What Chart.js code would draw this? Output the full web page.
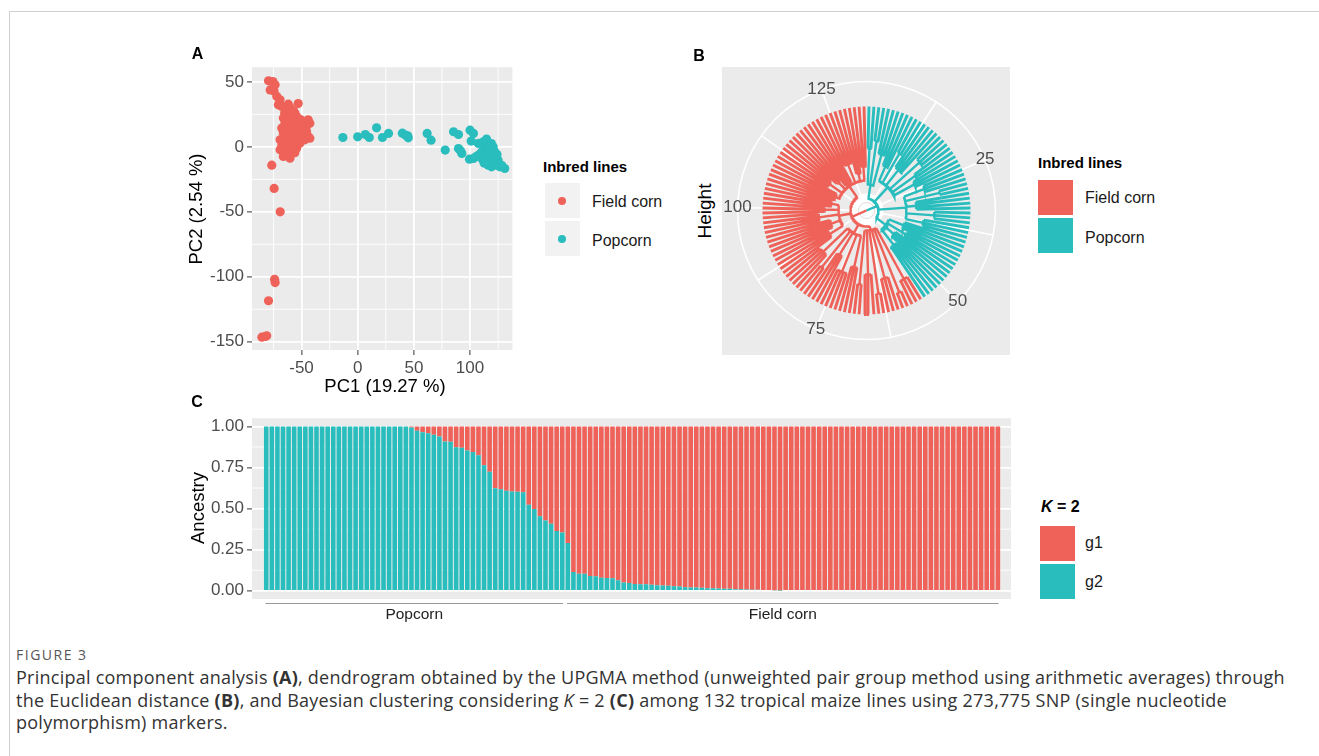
<!DOCTYPE html>
<html>
<head>
<meta charset="utf-8">
<title>Figure 3</title>
<script src="https://cdn.jsdelivr.net/npm/chart.js@4.4.1/dist/chart.umd.min.js"></script>
<style>
  body { margin: 0; width: 1319px; height: 756px; position: relative; overflow: hidden; background: #fff;
         font-family: "Liberation Sans", Arial, sans-serif; color: #000; }
  .frame { position: absolute; left: 9px; top: 11px; width: 1400px; height: 800px;
           border-top: 1px solid #cfcfcf; border-left: 1px solid #cfcfcf; }
  canvas { position: absolute; }
  .txt { position: absolute; white-space: nowrap; line-height: 1; }
  .c { transform: translate(-50%, -50%); }
  .v { transform: translate(-50%, -50%) rotate(-90deg); }
  .l { transform: translateY(-50%); }
  .tag { font-weight: bold; font-size: 16px; }
  .ttl { font-size: 18.5px; }
  .leg-title { font-weight: bold; font-size: 15px; }
  .leg-lab { font-size: 16px; color: #1a1a1a; }
  .key { position: absolute; width: 35px; height: 35px; }
  .dot { position: absolute; width: 8px; height: 8px; border-radius: 50%; transform: translate(-50%, -50%); }
  .fig { position: absolute; left: 16px; top: 654px; transform: translateY(-50%); font-family: "Open Sans", sans-serif;
         font-size: 14px; letter-spacing: 1.5px; color: #555; white-space: nowrap; }
  .cap { position: absolute; left: 16px; top: 666px; font-family: "Open Sans", sans-serif; font-size: 18px;
         letter-spacing: 0.25px; line-height: 22.5px; color: #333; white-space: nowrap; }
</style>
</head>
<body>
<div class="frame"></div>

<canvas id="pca" width="337" height="326" style="left:180px;top:54px"></canvas>
<canvas id="tree" width="288" height="288" style="left:722px;top:67px"></canvas>
<canvas id="anc" width="831" height="228" style="left:180px;top:405px"></canvas>

<!-- panel tags and axis titles -->
<div class="txt c tag" style="left:197.5px;top:54px">A</div>
<div class="txt c tag" style="left:699px;top:56px">B</div>
<div class="txt c tag" style="left:197px;top:402px">C</div>
<div class="txt v ttl" style="left:196px;top:209px">PC2 (2.54 %)</div>
<div class="txt c ttl" style="left:385px;top:386px">PC1 (19.27 %)</div>
<div class="txt v ttl" style="left:704px;top:211px;font-size:19px">Height</div>
<div class="txt v ttl" style="left:197.5px;top:508px">Ancestry</div>

<!-- legend A -->
<div class="txt l leg-title" style="left:543px;top:166px">Inbred lines</div>
<div class="key" style="left:545px;top:183px;background:#F2F2F2"></div>
<div class="key" style="left:545px;top:221px;background:#F2F2F2"></div>
<div class="dot" id="dotField" style="left:562px;top:201px"></div>
<div class="dot" id="dotPop" style="left:562px;top:239px"></div>
<div class="txt l leg-lab" style="left:592px;top:202px">Field corn</div>
<div class="txt l leg-lab" style="left:592px;top:241px">Popcorn</div>

<!-- legend B -->
<div class="txt l leg-title" style="left:1038px;top:162px">Inbred lines</div>
<div class="key" id="keyB1" style="left:1038px;top:180px"></div>
<div class="key" id="keyB2" style="left:1038px;top:218px"></div>
<div class="txt l leg-lab" style="left:1085px;top:198px">Field corn</div>
<div class="txt l leg-lab" style="left:1085px;top:238px">Popcorn</div>

<!-- legend C -->
<div class="txt l leg-title" style="left:1041px;top:507px;font-size:16px"><i>K</i> = 2</div>
<div class="key" id="keyC1" style="left:1040px;top:526px"></div>
<div class="key" id="keyC2" style="left:1040px;top:564px"></div>
<div class="txt l leg-lab" style="left:1085px;top:543px">g1</div>
<div class="txt l leg-lab" style="left:1085px;top:582px">g2</div>

<div class="fig">FIGURE 3</div>
<div class="cap">Principal component analysis <b>(A)</b>, dendrogram obtained by the UPGMA method (unweighted pair group method using arithmetic averages) through<br>the Euclidean distance <b>(B)</b>, and Bayesian clustering considering <i>K</i> = 2 <b>(C)</b> among 132 tropical maize lines using 273,775 SNP (single nucleotide<br>polymorphism) markers.</div>

<script>
// ─── Panel A: PCA scores ────────────────────────────────────────────────
const fieldPC1 = [-79.4, -75.5, -73.5, -77.9, -74.5, -72.0, -69.1, -70.6, -67.6, -61.8, -53.0, -60.3,
  -55.9, -54.4, -44.1, -47.1, -42.6, -66.2, -61.8, -58.8, -64.7, -60.3, -57.4, -52.9, -50.0, -67.6,
  -63.2, -58.8, -54.4, -50.0, -45.6, -66.2, -61.8, -57.4, -52.9, -48.5, -44.1, -42.6, -69.1, -63.2,
  -58.8, -54.4, -47.1, -67.6, -61.8, -55.9, -51.5, -69.1, -63.2, -57.4, -54.4, -66.2, -60.3, -76.5,
  -74.4, -69.0, -74.0, -73.5, -79.4, -85.3, -82.4, -81.0, -65.0, -62.0, -57.0, -64.0, -56.0, -60.0,
  -66.0, -52.0, -49.0, -46.0, -62.0, -58.0, -65.0, -56.0, -60.0, -51.0];
const fieldPC2 = [50.8, 50.3, 47.7, 43.8, 43.0, 38.8, 36.2, 32.3, 31.1, 32.8, 33.3, 30.3,
  25.9, 23.4, 20.8, 18.2, 18.2, 22.1, 23.4, 22.1, 18.2, 19.5, 18.2, 19.5, 16.9, 14.4,
  14.4, 13.1, 14.4, 13.1, 11.8, 10.5, 9.2, 9.2, 10.5, 9.2, 7.9, 6.6, 5.4, 5.4,
  4.1, 5.4, 5.4, 1.5, 0.2, 1.5, 2.8, -2.3, -3.6, -2.3, -1.0, -7.4, -8.7, -14.1,
  -32.0, -50.0, -102.0, -104.5, -118.5, -146.5, -146.0, -145.5, 26.0, 27.0, 27.5, 20.0, 16.0, 16.0,
  12.0, 7.0, 12.0, 15.0, 2.0, 6.0, 8.0, -4.5, -6.0, 21.0];
const popPC1 = [-13.2, 0.0, 6.8, 10.3, 16.8, 22.0, 27.4, 39.7, 42.7, 45.0, 44.5, 61.8,
  65.3, 77.9, 85.3, 89.7, 89.7, 92.7, 100.0, 103.0, 101.0, 107.4, 111.8, 114.7,
  99.5, 103.0, 107.4, 113.3, 117.7, 120.6, 122.1, 110.3, 116.2, 113.3, 117.7, 114.7,
  120.6, 123.5, 126.5, 130.9, 119.1, 116.2, 125.0, 91.5, 118.5, 121.0, 111.0, 115.5,
  124.0, 128.5, 119.0, 112.5, 105.5, 122.5];
const popPC2 = [7.2, 7.7, 9.5, 7.2, 14.6, 7.2, 10.3, 10.5, 9.0, 6.9, 8.5, 10.3,
  5.1, -2.5, 11.6, 9.5, -1.3, -5.1, 12.8, 10.3, 4.4, 2.6, 3.9, 6.0,
  -9.5, -9.0, -6.4, 0.0, -1.3, 0.0, -3.9, -3.9, -5.1, -7.7, -9.0, -11.5,
  -11.5, -14.1, -15.4, -16.7, -15.4, -14.1, -10.3, -3.0, -7.0, -8.5, -9.5, -2.5,
  -6.0, -14.5, 2.5, -12.5, -7.5, -13.0];
const pcaXTicks = [-50, 0, 50, 100];
const pcaXMinor = [-75, -25, 25, 75, 125];
const pcaYTicks = [-150, -100, -50, 0, 50];
const pcaYMinor = [-125, -75, -25, 25];

// ─── Panel B: UPGMA tree, approximated as nested groups of leaves ───────
// leaves per terminal group (leaf order), and the height where each group joins
const groupSizes   = [2, 2, 3,  3, 2, 4, 3, 2, 3,  3, 2, 4, 3, 3,  4, 3, 4, 4,
                      3, 2, 3, 2, 3, 2,  3, 4, 3, 2, 4,  4, 5, 4, 3, 4,  5, 4, 3, 5, 4, 3, 3];
const groupHeights = [42, 34, 46,  56, 38, 52, 32, 44, 49,  42, 29, 54, 36, 46,  64, 58, 68, 60,
                      26, 16, 34, 20, 40, 30,  46, 38, 52, 32, 44,  60, 66, 56, 62, 68,  70, 58, 64, 72, 54, 66, 60];
const superGroupCounts = [3, 6, 5, 4, 6, 5, 5, 7];
const superHeights     = [78, 72, 64, 80, 84, 78, 76, 74];
const mainSuperCounts  = [4, 4];          // popcorn cluster, field corn cluster
const mainHeights      = [92, 88];
const rootHeight = 104;
const thetaTicks = [25, 50, 75, 100, 125];
const thetaGrid  = [12.5, 25, 37.5, 50, 62.5, 75, 87.5, 100, 112.5, 125];

// ─── Panel C: ancestry proportions, 132 lines ───────────────────────────
const g1 = [
  0, 0, 0, 0, 0, 0, 0, 0, 0, 0, 0, 0,
  0, 0, 0, 0, 0, 0, 0, 0, 0, 0, 0, 0,
  0, 0, 0.006, 0.026, 0.036, 0.042, 0.05, 0.062, 0.092, 0.094, 0.126, 0.13,
  0.146, 0.156, 0.176, 0.236, 0.276, 0.376, 0.382, 0.392, 0.396, 0.398, 0.4, 0.476,
  0.502, 0.546, 0.572, 0.592, 0.636, 0.646, 0.71, 0.886, 0.896, 0.896, 0.91, 0.912,
  0.92, 0.922, 0.924, 0.936, 0.95, 0.952, 0.958, 0.96, 0.96, 0.964, 0.966, 0.968,
  0.97, 0.972, 0.974, 0.978, 0.98, 0.98, 0.982, 0.984, 0.984, 0.986, 0.988, 0.988,
  0.99, 0.991, 0.992, 0.993, 0.994, 0.995, 0.996, 0.997, 0.998, 1, 1, 1,
  1, 1, 1, 1, 1, 1, 1, 1, 1, 1, 1, 1,
  1, 1, 1, 1, 1, 1, 1, 1, 1, 1, 1, 1,
  1, 1, 1, 1, 1, 1, 1, 1, 1, 1, 1, 1];
const g2 = [
  1, 1, 1, 1, 1, 1, 1, 1, 1, 1, 1, 1,
  1, 1, 1, 1, 1, 1, 1, 1, 1, 1, 1, 1,
  1, 1, 0.994, 0.974, 0.964, 0.958, 0.95, 0.938, 0.908, 0.906, 0.874, 0.87,
  0.854, 0.844, 0.824, 0.764, 0.724, 0.624, 0.618, 0.608, 0.604, 0.602, 0.6, 0.524,
  0.498, 0.454, 0.428, 0.408, 0.364, 0.354, 0.29, 0.114, 0.104, 0.104, 0.09, 0.088,
  0.08, 0.078, 0.076, 0.064, 0.05, 0.048, 0.042, 0.04, 0.04, 0.036, 0.034, 0.032,
  0.03, 0.028, 0.026, 0.022, 0.02, 0.02, 0.018, 0.016, 0.016, 0.014, 0.012, 0.012,
  0.01, 0.009, 0.008, 0.007, 0.006, 0.005, 0.004, 0.003, 0.002, 0, 0, 0,
  0, 0, 0, 0, 0, 0, 0, 0, 0, 0, 0, 0,
  0, 0, 0, 0, 0, 0, 0, 0, 0, 0, 0, 0,
  0, 0, 0, 0, 0, 0, 0, 0, 0, 0, 0, 0];
const ancTicks = [0, 0.25, 0.5, 0.75, 1];
const ancMinor = [0.125, 0.375, 0.625, 0.875];
const sampleGroups = ['Popcorn', 'Field corn'];
const sampleGroupSizes = [54, 78];

// ─── shared look ───────────────────────────────────────────────────────
const RED = '#EE6259', TEAL = '#29BDBD', PANEL = '#EBEBEB', TICK_TXT = '#4D4D4D';
const FONT = '"Liberation Sans", Arial, sans-serif';

document.getElementById('dotField').style.background = RED;
document.getElementById('dotPop').style.background = TEAL;
['keyB1', 'keyC1'].forEach(id => document.getElementById(id).style.background = RED);
['keyB2', 'keyC2'].forEach(id => document.getElementById(id).style.background = TEAL);

const fixTicks = vals => scale => { scale.ticks = vals.map(v => ({ value: v })); };

// gray ggplot panel + thin minor grid, drawn under everything
function ggPanel(minorX, minorY) {
  return {
    id: 'ggPanel',
    beforeDraw(chart) {
      const { ctx, chartArea: a, scales } = chart;
      ctx.save();
      ctx.fillStyle = PANEL;
      ctx.fillRect(a.left, a.top, a.right - a.left, a.bottom - a.top);
      ctx.strokeStyle = '#fff';
      ctx.lineWidth = 0.9;
      ctx.beginPath();
      minorX.forEach(v => {
        const p = scales.x.getPixelForValue(v);
        ctx.moveTo(p, a.top); ctx.lineTo(p, a.bottom);
      });
      minorY.forEach(v => {
        const p = scales.y.getPixelForValue(v);
        ctx.moveTo(a.left, p); ctx.lineTo(a.right, p);
      });
      ctx.stroke();
      ctx.restore();
    }
  };
}

function axisStyle(extra) {
  return Object.assign({
    type: 'linear',
    border: { display: false },
    grid: { color: '#fff', lineWidth: 1.8, tickColor: '#333', tickLength: 5, tickWidth: 1 },
    ticks: { color: TICK_TXT, font: { family: FONT, size: 17 }, padding: 3, maxRotation: 0,
             callback: v => String(v) }
  }, extra);
}

// ─── A: PCA scatter ────────────────────────────────────────────────────
new Chart(document.getElementById('pca'), {
  type: 'scatter',
  data: {
    datasets: [
      { data: fieldPC1.map((x, i) => ({ x, y: fieldPC2[i] })), backgroundColor: RED,
        borderWidth: 0, pointRadius: 4.6 },
      { data: popPC1.map((x, i) => ({ x, y: popPC2[i] })), backgroundColor: TEAL,
        borderWidth: 0, pointRadius: 4.6 }
    ]
  },
  options: {
    animation: false, responsive: false, events: [],
    layout: { padding: 0 },
    plugins: { legend: { display: false }, tooltip: { enabled: false } },
    scales: {
      x: axisStyle({ min: -94.1, max: 137.7, afterBuildTicks: fixTicks(pcaXTicks),
                     afterFit: s => { s.height = 30; } }),
      y: axisStyle({ min: -156.4, max: 61.3, afterBuildTicks: fixTicks(pcaYTicks),
                     afterFit: s => { s.width = 72; } })
    }
  },
  plugins: [ggPanel(pcaXMinor, pcaYMinor)]
});

// ─── B: circular dendrogram ────────────────────────────────────────────
const nLeaves = groupSizes.reduce((a, b) => a + b, 0);
const LEAF_TIP = 104;   // radius (chart units) of height 0
const RING = 129;       // outer white ring

function polarXY(pos, r) {
  const a = (pos - 0.5) / nLeaves * 2 * Math.PI;
  return { x: r * Math.sin(a), y: r * Math.cos(a) };
}
const atHeight = (pos, h) => polarXY(pos, LEAF_TIP - h);

function buildTree() {
  const out = { tealLeaf: [], redLeaf: [], tealNode: [], redNode: [] };
  const brk = { x: 0, y: null };
  const seg = (arr, p, h1, h2) => { arr.push(atHeight(p, h1), atHeight(p, h2), brk); };
  const arc = (arr, p1, p2, h) => {
    for (let p = p1; p < p2; p += 0.1) arr.push(atHeight(p, h));
    arr.push(atHeight(p2, h), brk);
  };
  let leaf = 1, g = 0, s = 0;
  mainSuperCounts.forEach((nSup, m) => {
    const leafArr = m === 0 ? out.tealLeaf : out.redLeaf;
    const nodeArr = m === 0 ? out.tealNode : out.redNode;
    const supMids = [];
    for (let k = 0; k < nSup; k++, s++) {
      const grpMids = [];
      for (let j = 0; j < superGroupCounts[s]; j++, g++) {
        const first = leaf, last = leaf + groupSizes[g] - 1, h = groupHeights[g];
        for (let i = first; i <= last; i++) seg(leafArr, i, 0, h);
        if (last > first) arc(nodeArr, first, last, h);
        const mid = (first + last) / 2;
        seg(nodeArr, mid, h, superHeights[s]);
        grpMids.push(mid);
        leaf = last + 1;
      }
      const a = grpMids[0], b = grpMids[grpMids.length - 1];
      arc(nodeArr, a, b, superHeights[s]);
      const mid = (a + b) / 2;
      seg(nodeArr, mid, superHeights[s], mainHeights[m]);
      supMids.push(mid);
    }
    const a = supMids[0], b = supMids[supMids.length - 1];
    arc(nodeArr, a, b, mainHeights[m]);
    const mid = (a + b) / 2;
    seg(nodeArr, mid, mainHeights[m], rootHeight);
  });
  return out;
}
const tree = buildTree();

const polarFrame = {
  id: 'polarFrame',
  beforeDraw(chart) {
    const { ctx, chartArea: a, scales: { x, y } } = chart;
    const px = p => ({ x: x.getPixelForValue(p.x), y: y.getPixelForValue(p.y) });
    const c = px({ x: 0, y: 0 });
    const rPx = r => x.getPixelForValue(r) - c.x;
    ctx.save();
    ctx.fillStyle = PANEL;
    ctx.fillRect(a.left, a.top, a.right - a.left, a.bottom - a.top);
    ctx.strokeStyle = '#fff';
    ctx.lineWidth = 1.6;
    ctx.beginPath();
    ctx.arc(c.x, c.y, rPx(RING), 0, 2 * Math.PI);
    thetaGrid.forEach(v => {
      const e = px(polarXY(v, RING));
      ctx.moveTo(c.x, c.y); ctx.lineTo(e.x, e.y);
    });
    ctx.stroke();
    ctx.fillStyle = '#fff';
    ctx.beginPath(); ctx.arc(c.x, c.y, rPx(17), 0, 2 * Math.PI); ctx.fill();
    ctx.strokeStyle = '#dcdcdc'; ctx.lineWidth = 1;
    ctx.beginPath(); ctx.arc(c.x, c.y, rPx(8), 0, 2 * Math.PI); ctx.stroke();
    ctx.restore();
  },
  afterDatasetsDraw(chart) {
    const { ctx, scales: { x, y } } = chart;
    ctx.save();
    ctx.fillStyle = TICK_TXT;
    ctx.font = `17px ${FONT}`;
    ctx.textAlign = 'center';
    ctx.textBaseline = 'middle';
    thetaTicks.forEach(v => {
      const p = polarXY(v, RING);
      ctx.fillText(String(v), x.getPixelForValue(p.x), y.getPixelForValue(p.y));
    });
    ctx.restore();
  }
};

const treeLine = (data, color, width) => ({
  data, showLine: true, spanGaps: false, borderColor: color, borderWidth: width,
  pointRadius: 0, tension: 0, borderCapStyle: 'butt'
});

new Chart(document.getElementById('tree'), {
  type: 'scatter',
  data: {
    datasets: [
      treeLine(tree.redLeaf, RED, 2.9),
      treeLine(tree.tealLeaf, TEAL, 2.9),
      treeLine(tree.redNode, RED, 2.4),
      treeLine(tree.tealNode, TEAL, 2.4)
    ]
  },
  options: {
    animation: false, responsive: false, events: [],
    layout: { padding: 0 },
    plugins: { legend: { display: false }, tooltip: { enabled: false } },
    scales: {
      x: { type: 'linear', display: false, min: -144.5, max: 143.5 },
      y: { type: 'linear', display: false, min: -144.5, max: 143.5 }
    }
  },
  plugins: [polarFrame]
});

// ─── C: structure bar plot ─────────────────────────────────────────────
const sampleAxis = {
  id: 'sampleAxis',
  afterDraw(chart) {
    const { ctx, chartArea: a, scales: { x } } = chart;
    ctx.save();
    ctx.strokeStyle = '#9a9a9a';
    ctx.lineWidth = 1.2;
    ctx.fillStyle = '#222';
    ctx.font = `15.5px ${FONT}`;
    ctx.textAlign = 'center';
    ctx.textBaseline = 'middle';
    let start = 1;
    sampleGroups.forEach((name, i) => {
      const end = start + sampleGroupSizes[i] - 1;
      const x0 = x.getPixelForValue(start - 0.5) + 2, x1 = x.getPixelForValue(end + 0.5) - 2;
      ctx.beginPath();
      ctx.moveTo(x0, a.bottom + 4.5); ctx.lineTo(x1, a.bottom + 4.5);
      ctx.stroke();
      ctx.fillText(name, (x0 + x1) / 2, a.bottom + 16);
      start = end + 1;
    });
    ctx.restore();
  }
};

const barSet = (label, vals, color) => ({
  label, data: vals.map((y, i) => ({ x: i + 1, y })), backgroundColor: color,
  borderWidth: 0, barPercentage: 0.82, categoryPercentage: 1, stack: 'k'
});

new Chart(document.getElementById('anc'), {
  type: 'bar',
  data: { datasets: [barSet('g2', g2, TEAL), barSet('g1', g1, RED)] },
  options: {
    animation: false, responsive: false, events: [],
    layout: { padding: { top: 9, right: 0, bottom: 34, left: 0 } },
    plugins: { legend: { display: false }, tooltip: { enabled: false } },
    scales: {
      x: { type: 'linear', display: false, offset: false, stacked: true, min: -1.55, max: 134.35 },
      y: axisStyle({ stacked: true, min: -0.05, max: 1.05, afterBuildTicks: fixTicks(ancTicks),
                     afterFit: s => { s.width = 72; },
                     ticks: { color: TICK_TXT, font: { family: FONT, size: 17 }, padding: 3,
                              callback: v => Number(v).toFixed(2) } })
    }
  },
  plugins: [ggPanel([], ancMinor), sampleAxis]
});
</script>
</body>
</html>
